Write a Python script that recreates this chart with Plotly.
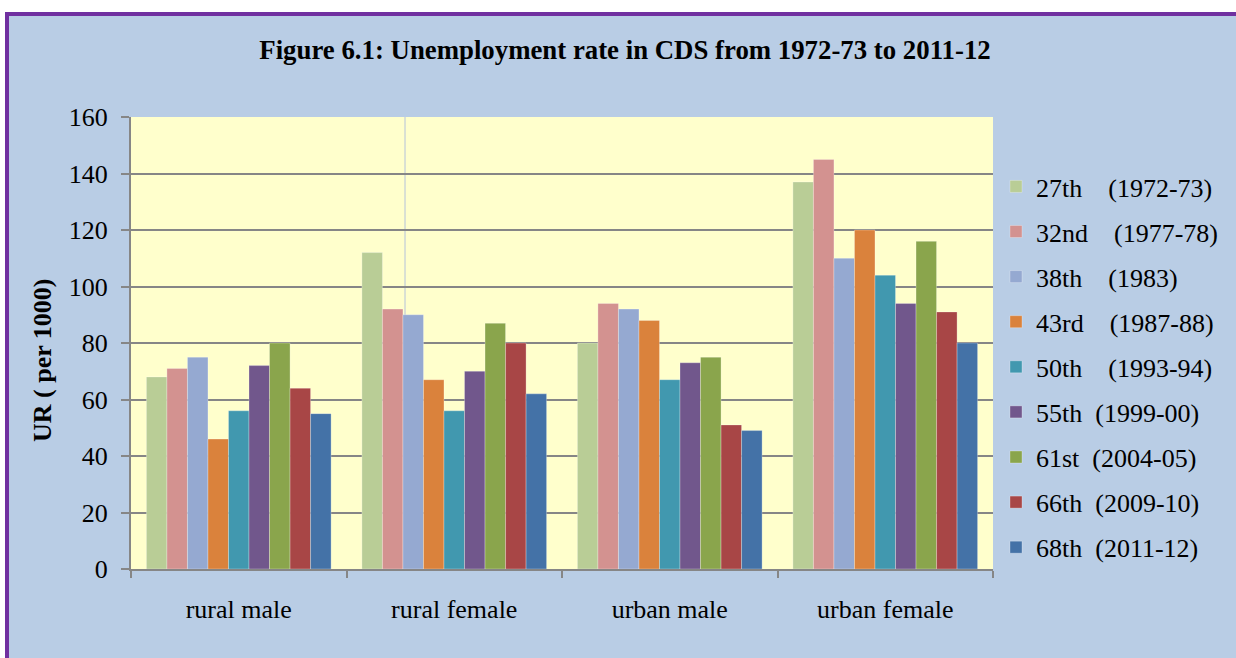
import plotly.graph_objects as go

categories = ["rural male", "rural female", "urban male", "urban female"]

series_names = [
    "27th\u00a0\u00a0\u00a0\u00a0(1972-73)",
    "32nd\u00a0\u00a0\u00a0\u00a0(1977-78)",
    "38th\u00a0\u00a0\u00a0\u00a0(1983)",
    "43rd\u00a0\u00a0\u00a0\u00a0(1987-88)",
    "50th\u00a0\u00a0\u00a0\u00a0(1993-94)",
    "55th\u00a0\u00a0(1999-00)",
    "61st\u00a0\u00a0(2004-05)",
    "66th\u00a0\u00a0(2009-10)",
    "68th\u00a0\u00a0(2011-12)",
]

r27 = [68, 112, 80, 137]
r32 = [71, 92, 94, 145]
r38 = [75, 90, 92, 110]
r43 = [46, 67, 88, 120]
r50 = [56, 56, 67, 104]
r55 = [72, 70, 73, 94]
r61 = [80, 87, 75, 116]
r66 = [64, 80, 51, 91]
r68 = [55, 62, 49, 80]

series_values = [r27, r32, r38, r43, r50, r55, r61, r66, r68]

colors = ["#B9CD96", "#D39290", "#95A9D1", "#DA823C", "#4198AF",
          "#71578C", "#8AA54C", "#A84646", "#4472A7"]

y_ticks = [0, 20, 40, 60, 80, 100, 120, 140, 160]

FONT = "Liberation Serif, Times New Roman, serif"

W, H = 1236, 658
L, R, T, B = 131, 993, 117, 569
pw, ph = R - L, B - T


def px(x):
    return (x - L) / pw


def py(y):
    return (B - y) / ph


fig = go.Figure()
for i, (name, vals) in enumerate(zip(series_names, series_values)):
    fig.add_trace(go.Bar(
        x=categories, y=vals, name=name, legendgroup=f"g{i}",
        marker=dict(color=colors[i], line=dict(color="rgba(255,255,255,0.35)", width=0.8)),
    ))

shapes = [
    dict(type="rect", xref="paper", yref="paper", x0=px(-20), x1=px(1300),
         y0=py(12), y1=py(-20), fillcolor="white", line=dict(width=0), layer="above"),
    dict(type="rect", xref="paper", yref="paper", x0=px(-20), x1=px(5),
         y0=py(700), y1=py(-20), fillcolor="white", line=dict(width=0), layer="above"),
    dict(type="rect", xref="paper", yref="paper", x0=px(7), x1=px(1260),
         y0=py(700), y1=py(14), fillcolor="rgba(0,0,0,0)",
         line=dict(color="#7030A0", width=4), layer="above"),
    dict(type="line", xref="paper", yref="paper", x0=px(405), x1=px(405),
         y0=0, y1=1, line=dict(color="#B4C2DA", width=1), layer="below"),
]

fig.update_layout(
    width=W, height=H,
    margin=dict(l=L, r=W - R, t=T, b=H - B, pad=0),
    paper_bgcolor="#B9CDE5",
    plot_bgcolor="#FFFFCC",
    barmode="group",
    bargap=0.143,
    bargroupgap=0,
    font=dict(family=FONT, size=26, color="black"),
    title=dict(
        text="<b>Figure 6.1: Unemployment rate in CDS from 1972-73 to 2011-12</b>",
        x=625 / W, y=1 - 50 / H, xref="container", yref="container",
        xanchor="center", yanchor="middle",
        font=dict(family=FONT, size=26.8, color="black"),
    ),
    xaxis=dict(
        showline=True, linecolor="#868686", linewidth=2,
        ticks="outside", tickson="boundaries", ticklen=7, tickcolor="#868686",
        tickwidth=2, showgrid=False,
        tickfont=dict(family=FONT, size=26, color="black"),
        ticklabelstandoff=16,
    ),
    yaxis=dict(
        range=[0, 160], tickvals=y_ticks,
        showline=True, linecolor="#868686", linewidth=2,
        ticks="outside", ticklen=8, tickcolor="#868686", tickwidth=2,
        showgrid=True, gridcolor="#868686", gridwidth=1.5,
        zeroline=False,
        tickfont=dict(family=FONT, size=26, color="black"),
        ticklabelstandoff=8,
    ),
    legend=dict(
        x=px(996), xanchor="left", y=py(367), yanchor="middle",
        bgcolor="rgba(0,0,0,0)", tracegroupgap=8.3,
        font=dict(family=FONT, size=26, color="black"),
        itemclick=False,
    ),
    showlegend=True,
    shapes=shapes,
    annotations=[
        dict(text="<b>UR ( per 1000)</b>", xref="paper", yref="paper",
             x=px(42), y=py(361), textangle=-90, showarrow=False,
             xanchor="center", yanchor="middle",
             font=dict(family=FONT, size=26, color="black")),
    ],
)

fig.write_html(
    "out.html",
    config={"displayModeBar": False},
    post_script="document.body.style.margin='0';document.body.style.overflow='hidden';",
)
